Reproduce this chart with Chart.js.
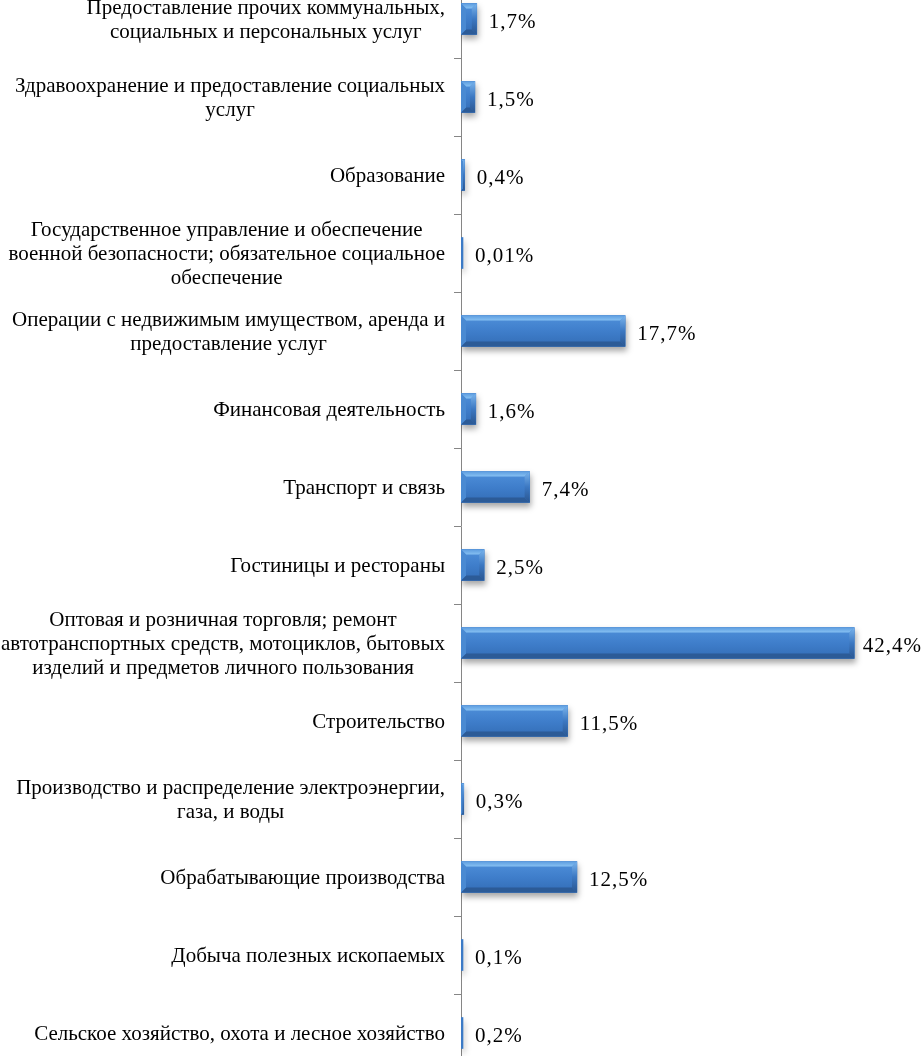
<!DOCTYPE html>
<html>
<head>
<meta charset="utf-8">
<script src="https://cdn.jsdelivr.net/npm/chart.js@4.4.1/dist/chart.umd.min.js"></script>
<style>
  html, body { margin: 0; padding: 0; background: #fff; overflow: hidden; }
  #wrap { position: relative; width: 922px; height: 1056px; overflow: hidden; }
  #chart { position: absolute; left: 0; top: -20px; }
</style>
</head>
<body>
<div id="wrap"><canvas id="chart" width="922" height="1092"></canvas></div>
<script>
/* ---------- data (top to bottom, as in the picture) ---------- */
var categories = [
  ['Предоставление прочих коммунальных,', 'социальных и персональных услуг'],
  ['Здравоохранение и предоставление социальных', 'услуг'],
  ['Образование'],
  ['Государственное управление и обеспечение', 'военной безопасности; обязательное социальное', 'обеспечение'],
  ['Операции с недвижимым имуществом, аренда и', 'предоставление услуг'],
  ['Финансовая деятельность'],
  ['Транспорт и связь'],
  ['Гостиницы и рестораны'],
  ['Оптовая и розничная торговля; ремонт', 'автотранспортных средств, мотоциклов, бытовых', 'изделий и предметов личного пользования'],
  ['Строительство'],
  ['Производство и распределение электроэнергии,', 'газа, и воды'],
  ['Обрабатывающие производства'],
  ['Добыча полезных ископаемых'],
  ['Сельское хозяйство, охота и лесное хозяйство']
];
var shares = [1.7, 1.5, 0.4, 0.01, 17.7, 1.6, 7.4, 2.5, 42.4, 11.5, 0.3, 12.5, 0.1, 0.2];
var shareLabels = ['1,7%', '1,5%', '0,4%', '0,01%', '17,7%', '1,6%', '7,4%', '2,5%', '42,4%', '11,5%', '0,3%', '12,5%', '0,1%', '0,2%'];

var SERIF = '"Liberation Serif", "Times New Roman", "DejaVu Serif", serif';

/* ---------- category labels: block right-aligned, lines centred ---------- */
var categoryLabels = {
  id: 'categoryLabels',
  afterDraw: function (chart) {
    var ctx = chart.ctx, ys = chart.scales.y;
    ctx.save();
    ctx.font = '21px ' + SERIF;
    ctx.fillStyle = '#000';
    ctx.textAlign = 'center';
    ctx.textBaseline = 'middle';
    var right = ys.right - 16, lh = 24;
    categories.forEach(function (lines, i) {
      var w = 0;
      lines.forEach(function (l) { w = Math.max(w, ctx.measureText(l).width); });
      var cx = right - w / 2;
      var y0 = ys.getPixelForValue(i) + 1 - (lines.length - 1) * lh / 2;
      lines.forEach(function (l, k) { ctx.fillText(l, cx, y0 + k * lh); });
    });
    ctx.restore();
  }
};

/* ---------- bar shadow + bevel + value labels ---------- */
var bevelBars = {
  id: 'bevelBars',
  beforeDatasetsDraw: function (chart) {
    var ctx = chart.ctx;
    ctx.save();
    ctx.shadowColor = 'rgba(0,0,0,0.35)';
    ctx.shadowBlur = 6;
    ctx.shadowOffsetX = 1;
    ctx.shadowOffsetY = 4;
  },
  afterDatasetsDraw: function (chart) {
    var ctx = chart.ctx;
    ctx.restore();
    var meta = chart.getDatasetMeta(0);
    ctx.save();
    meta.data.forEach(function (bar, i) {
      var p = bar.getProps(['x', 'y', 'base', 'height'], true);
      var l = p.base, r = p.x, t = p.y - p.height / 2, b = p.y + p.height / 2;
      var e = Math.min(5, (r - l) / 2);
      if (e > 1) {
        // body
        var gb = ctx.createLinearGradient(0, t, 0, b);
        gb.addColorStop(0, '#4f90da'); gb.addColorStop(0.5, '#3f7ecb'); gb.addColorStop(1, '#336db6');
        ctx.fillStyle = gb;
        ctx.fillRect(l, t, r - l, b - t);
        // top facet
        var gt = ctx.createLinearGradient(0, t, 0, t + e);
        gt.addColorStop(0, '#5d9de0'); gt.addColorStop(1, '#86c0f2');
        ctx.fillStyle = gt;
        ctx.beginPath(); ctx.moveTo(l, t); ctx.lineTo(r, t); ctx.lineTo(r - e, t + e); ctx.lineTo(l + e, t + e); ctx.closePath(); ctx.fill();
        // bottom facet
        ctx.fillStyle = '#2c5b97';
        ctx.beginPath(); ctx.moveTo(l, b); ctx.lineTo(r, b); ctx.lineTo(r - e, b - e); ctx.lineTo(l + e, b - e); ctx.closePath(); ctx.fill();
        // right facet
        var g = ctx.createLinearGradient(0, t, 0, b);
        g.addColorStop(0, '#7ab4ec'); g.addColorStop(0.5, '#3c78c2'); g.addColorStop(1, '#2a5690');
        ctx.fillStyle = g;
        ctx.beginPath(); ctx.moveTo(r, t); ctx.lineTo(r, b); ctx.lineTo(r - e, b - e); ctx.lineTo(r - e, t + e); ctx.closePath(); ctx.fill();
        // left facet
        ctx.fillStyle = '#4a8ad2';
        ctx.beginPath(); ctx.moveTo(l, t); ctx.lineTo(l, b); ctx.lineTo(l + e, b - e); ctx.lineTo(l + e, t + e); ctx.closePath(); ctx.fill();
      }
      // value label
      ctx.font = '21px ' + SERIF;
      ctx.letterSpacing = '1px';
      ctx.fillStyle = '#000';
      ctx.textAlign = 'left';
      ctx.textBaseline = 'middle';
      var txt = shareLabels[i];
      var w = ctx.measureText(txt).width;
      var x = Math.min(r + 12, chart.width - w);
      ctx.fillText(txt, x, p.y + 3);
    });
    ctx.restore();
  }
};

new Chart(document.getElementById('chart').getContext('2d'), {
  type: 'bar',
  data: {
    labels: categories.map(function (c) { return c.join(' '); }),
    datasets: [{
      data: shares,
      backgroundColor: '#3b7ac6',
      borderWidth: 0,
      barThickness: 31,
      minBarLength: 2
    }]
  },
  options: {
    indexAxis: 'y',
    responsive: false,
    animation: false,
    layout: { padding: 0 },
    scales: {
      x: { display: false, min: 0, max: 49.7 },
      y: {
        afterFit: function (s) { s.width = 461; },
        ticks: { display: false, autoSkip: false },
        grid: { drawOnChartArea: false, drawTicks: true, tickLength: 7, color: '#868686', offset: true },
        border: { display: true, color: '#868686', width: 1 }
      }
    },
    plugins: { legend: { display: false }, tooltip: { enabled: false } }
  },
  plugins: [bevelBars, categoryLabels]
});
</script>
</body>
</html>
